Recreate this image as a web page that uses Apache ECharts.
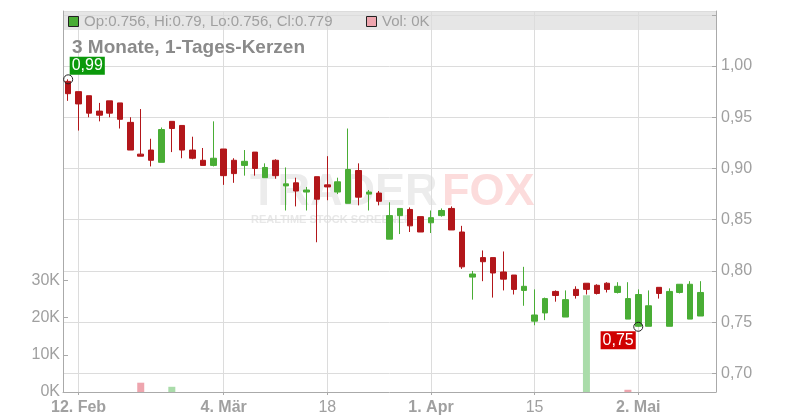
<!DOCTYPE html>
<html><head><meta charset="utf-8">
<script src="https://cdn.jsdelivr.net/npm/echarts@6/dist/echarts.min.js"></script>
<style>html,body{margin:0;padding:0;background:#fff}#c{width:800px;height:420px}</style>
</head><body><div id="c"></div>
<script>
// ---- data ----
const dates = [
 '2024-02-09','2024-02-12','2024-02-13','2024-02-14','2024-02-15','2024-02-16',
 '2024-02-19','2024-02-20','2024-02-21','2024-02-22','2024-02-23',
 '2024-02-26','2024-02-27','2024-02-28','2024-03-01',
 '2024-03-04','2024-03-05','2024-03-06','2024-03-07','2024-03-08','2024-03-11','2024-03-12','2024-03-13','2024-03-14','2024-03-15',
 '2024-03-18','2024-03-19','2024-03-20','2024-03-21','2024-03-22','2024-03-25','2024-03-26','2024-03-27','2024-03-28','2024-03-29',
 '2024-04-01','2024-04-02','2024-04-03','2024-04-04','2024-04-05','2024-04-08','2024-04-09','2024-04-10','2024-04-11','2024-04-12',
 '2024-04-15','2024-04-16','2024-04-17','2024-04-18','2024-04-19','2024-04-22','2024-04-23','2024-04-24','2024-04-25','2024-04-26',
 '2024-05-02','2024-05-03','2024-05-06','2024-05-07','2024-05-08','2024-05-09','2024-05-10','2024-05-13'
];
const openP  = [0.985,0.975,0.971,0.956,0.966,0.964,0.945,0.914,0.918,0.906,0.946,0.942,0.918,0.908,0.903,0.919,0.908,0.903,0.916,0.891,0.908,0.883,0.886,0.877,0.892,0.884,0.877,0.866,0.898,0.875,0.876,0.831,0.854,0.860,0.853,0.847,0.854,0.861,0.838,0.794,0.813,0.813,0.799,0.796,0.781,0.751,0.759,0.780,0.755,0.782,0.788,0.786,0.788,0.779,0.753,0.746,0.746,0.784,0.746,0.779,0.753,0.756,null];
const closeP = [0.973,0.963,0.954,0.952,0.954,0.948,0.918,0.912,0.908,0.938,0.939,0.918,0.910,0.903,0.910,0.893,0.895,0.907,0.900,0.901,0.893,0.885,0.878,0.879,0.870,0.882,0.887,0.899,0.872,0.877,0.868,0.854,0.861,0.844,0.838,0.852,0.859,0.840,0.804,0.797,0.809,0.798,0.792,0.782,0.785,0.757,0.773,0.776,0.772,0.776,0.782,0.778,0.782,0.785,0.773,0.777,0.766,0.778,0.780,0.787,0.787,0.779,null];
const lowP   = [0.966,0.937,0.950,0.946,0.950,0.939,0.918,0.912,0.902,0.906,0.916,0.910,0.909,0.903,0.902,0.884,0.886,0.893,0.893,0.891,0.890,0.859,0.863,0.859,0.828,0.869,0.875,0.866,0.864,0.859,0.864,0.831,0.836,0.838,0.838,0.837,0.853,0.840,0.802,0.772,0.790,0.774,0.781,0.777,0.766,0.747,0.752,0.770,0.755,0.773,0.777,0.777,0.779,0.778,0.753,0.7455,0.746,0.773,0.746,0.778,0.753,0.756,null];
const highP  = [0.987,0.975,0.971,0.964,0.966,0.964,0.950,0.958,0.929,0.940,0.946,0.942,0.931,0.920,0.946,0.919,0.910,0.918,0.916,0.905,0.909,0.901,0.891,0.882,0.892,0.912,0.891,0.939,0.905,0.879,0.878,0.867,0.861,0.862,0.853,0.859,0.861,0.863,0.844,0.800,0.820,0.813,0.819,0.796,0.804,0.782,0.774,0.781,0.781,0.785,0.788,0.787,0.789,0.789,0.789,0.782,0.781,0.784,0.783,0.787,0.790,0.790,null];
const volume = [0,0,0,0,0,0,0,2500,0,0,1400,0,0,0,0,0,0,0,0,0,0,0,0,0,0,0,0,0,0,0,0,0,0,0,0,0,0,0,0,0,0,0,0,0,0,0,0,0,0,0,26000,0,0,0,600,0,0,0,0,0,0,0,null];
const tickDates  = ['2024-02-12','2024-03-04','2024-03-18','2024-04-01','2024-04-15','2024-05-02'];
const tickLabels = ['12. Feb','4. Mär','18','1. Apr','15','2. Mai'];
const tickBold   = [true,true,false,true,false,true];
const priceTickMax = 1.00;
const chartTitle = '3 Monate, 1-Tages-Kerzen';

// ---- style ----
const FONT = '"Liberation Sans", Arial, sans-serif';
const UP = '#49ad35', DOWN = '#b2161a';
const VOL_UP = '#aadcaa', VOL_DOWN = '#eea5ae';
const GRIDC = '#dcdcdc', AXISC = '#aaaaaa', LABC = '#a0a0a0';
const L = 63, R = 84;

const candles = dates.map((d, i) => openP[i] == null ? '-' : [openP[i], closeP[i], lowP[i], highP[i]]);
const vols = dates.map((d, i) => volume[i] == null ? '-' : {
  value: volume[i],
  itemStyle: { color: (i > 0 && closeP[i] < closeP[i - 1]) ? VOL_DOWN : VOL_UP }
});
let last = openP.length - 1; while (openP[last] == null) last--;
const headerTxt = 'Op:' + openP[last] + ', Hi:' + highP[last] + ', Lo:' + lowP[last] + ', Cl:' + closeP[last];
const volTxt = 'Vol: ' + Math.round(volume[last] / 1000) + 'K';
const fmtPrice = v => (Math.round(v * 100) / 100).toFixed(2).replace('.', ',');
const isTick = (i, v) => tickDates.indexOf(v) >= 0;

const chart = echarts.init(document.getElementById('c'), null, { renderer: 'canvas' });
chart.setOption({
  animation: false,
  backgroundColor: '#ffffff',
  textStyle: { fontFamily: FONT },
  grid: [
    { left: L, right: R, top: 11, bottom: 28, outerBoundsMode: 'none', containLabel: false },
    { left: L, right: R, top: 11, bottom: 46.6, outerBoundsMode: 'none', containLabel: false },
    { left: L, right: R, top: 280.4, bottom: 28, outerBoundsMode: 'none', containLabel: false }
  ],
  xAxis: [
    { gridIndex: 0, type: 'category', data: dates, boundaryGap: true,
      axisLine: { show: true, lineStyle: { color: AXISC } },
      axisTick: { show: true, alignWithLabel: true, interval: isTick, length: 3, lineStyle: { color: AXISC } },
      axisLabel: { interval: isTick, margin: 8, fontFamily: FONT,
        formatter: v => { const k = tickDates.indexOf(v); return (tickBold[k] ? '{b|' : '{n|') + tickLabels[k] + '}'; },
        rich: { b: { fontWeight: 'bold', fontSize: 16, color: LABC, fontFamily: FONT },
                n: { fontSize: 16, color: LABC, fontFamily: FONT } } },
      splitLine: { show: true, alignWithLabel: true, interval: isTick, lineStyle: { color: GRIDC, width: 1 } } },
    { gridIndex: 1, type: 'category', data: dates, boundaryGap: true, show: false },
    { gridIndex: 2, type: 'category', data: dates, boundaryGap: true, show: false }
  ],
  yAxis: [
    { gridIndex: 0, type: 'value', min: 0, max: 1, position: 'left',
      axisLine: { show: true, lineStyle: { color: AXISC } }, axisTick: { show: false }, axisLabel: { show: false }, splitLine: { show: false } },
    { gridIndex: 0, type: 'value', min: 0, max: 1, position: 'right',
      axisLine: { show: true, lineStyle: { color: AXISC } }, axisTick: { show: false }, axisLabel: { show: false }, splitLine: { show: false } },
    { gridIndex: 1, type: 'value', min: 0.70, max: 1.0537, interval: 0.05, position: 'right',
      axisLine: { show: false },
      axisTick: { show: true, inside: true, length: 4, lineStyle: { color: AXISC } },
      axisLabel: { showMaxLabel: false, margin: 5, fontSize: 16, color: LABC, fontFamily: FONT,
        formatter: v => v > priceTickMax + 1e-6 ? '' : fmtPrice(v) },
      splitLine: { show: true, lineStyle: { color: GRIDC, width: 1 } } },
    { gridIndex: 2, type: 'value', min: 0, max: 30000, interval: 10000, position: 'left',
      axisLine: { show: false },
      axisTick: { show: true, inside: true, length: 5, lineStyle: { color: AXISC } },
      axisLabel: { margin: 3, fontSize: 16, color: LABC, fontFamily: FONT, formatter: v => (v / 1000) + 'K' },
      splitLine: { show: false } }
  ],
  series: [
    { type: 'bar', xAxisIndex: 2, yAxisIndex: 3, data: vols, barWidth: 7, z: 1 },
    { type: 'candlestick', xAxisIndex: 1, yAxisIndex: 2, data: candles, barWidth: 6, z: 3,
      itemStyle: { color: UP, color0: DOWN, borderColor: UP, borderColor0: DOWN, borderWidth: 1 },
      markPoint: {
        symbol: 'circle', symbolSize: 9, silent: true,
        itemStyle: { color: 'rgba(0,0,0,0)', borderColor: '#222', borderWidth: 1 },
        data: [
          { type: 'max', valueDim: 'highest',
            label: { show: true, position: [6.5, 0.5], align: 'left', verticalAlign: 'bottom',
              formatter: p => fmtPrice(p.value), color: '#fff', fontSize: 16, fontFamily: FONT, lineHeight: 16,
              backgroundColor: '#0b990b', padding: [1, 2, 1, 2], textBorderWidth: 0 } },
          { type: 'min', valueDim: 'lowest',
            label: { show: true, position: [2.5, 9.5], align: 'right', verticalAlign: 'top',
              formatter: p => fmtPrice(p.value), color: '#fff', fontSize: 16, fontFamily: FONT, lineHeight: 16,
              backgroundColor: '#d00000', padding: [1, 2, 1, 2], textBorderWidth: 0 } }
        ]
      } }
  ],
  graphic: [
    { type: 'rect', z: -10, silent: true, shape: { x: L, y: 11, width: 800 - L - R, height: 19 }, style: { fill: '#e6e6e6' } },
    { type: 'text', z: -5, silent: true, left: 250, top: 170, style: { text: 'TRADER', font: 'bold 45px ' + FONT, fill: '#ececec' } },
    { type: 'text', z: -5, silent: true, left: 442, top: 170, style: { text: 'FOX', font: 'bold 45px ' + FONT, fill: '#fcdcdc' } },
    { type: 'text', z: -5, silent: true, left: 251, top: 214, style: { text: 'REALTIME STOCK SCREENER', font: 'bold 11px ' + FONT, fill: '#e8e8e8' } },
    { type: 'rect', z: 20, silent: true, shape: { x: 68.5, y: 16.5, width: 10, height: 10 }, style: { fill: UP, stroke: '#222', lineWidth: 1 } },
    { type: 'text', z: 20, silent: true, x: 84, y: 21.5, style: { text: headerTxt, font: '15px ' + FONT, fill: LABC, verticalAlign: 'middle' } },
    { type: 'rect', z: 20, silent: true, shape: { x: 366.5, y: 16.5, width: 10, height: 10 }, style: { fill: VOL_DOWN, stroke: '#222', lineWidth: 1 } },
    { type: 'text', z: 20, silent: true, x: 382, y: 21.5, style: { text: volTxt, font: '15px ' + FONT, fill: LABC, verticalAlign: 'middle' } },
    { type: 'text', z: 20, silent: true, x: 72, y: 48, style: { text: chartTitle, font: 'bold 19px ' + FONT, fill: '#8a8a8a', verticalAlign: 'middle' } }
  ]
});
</script>
</body></html>
